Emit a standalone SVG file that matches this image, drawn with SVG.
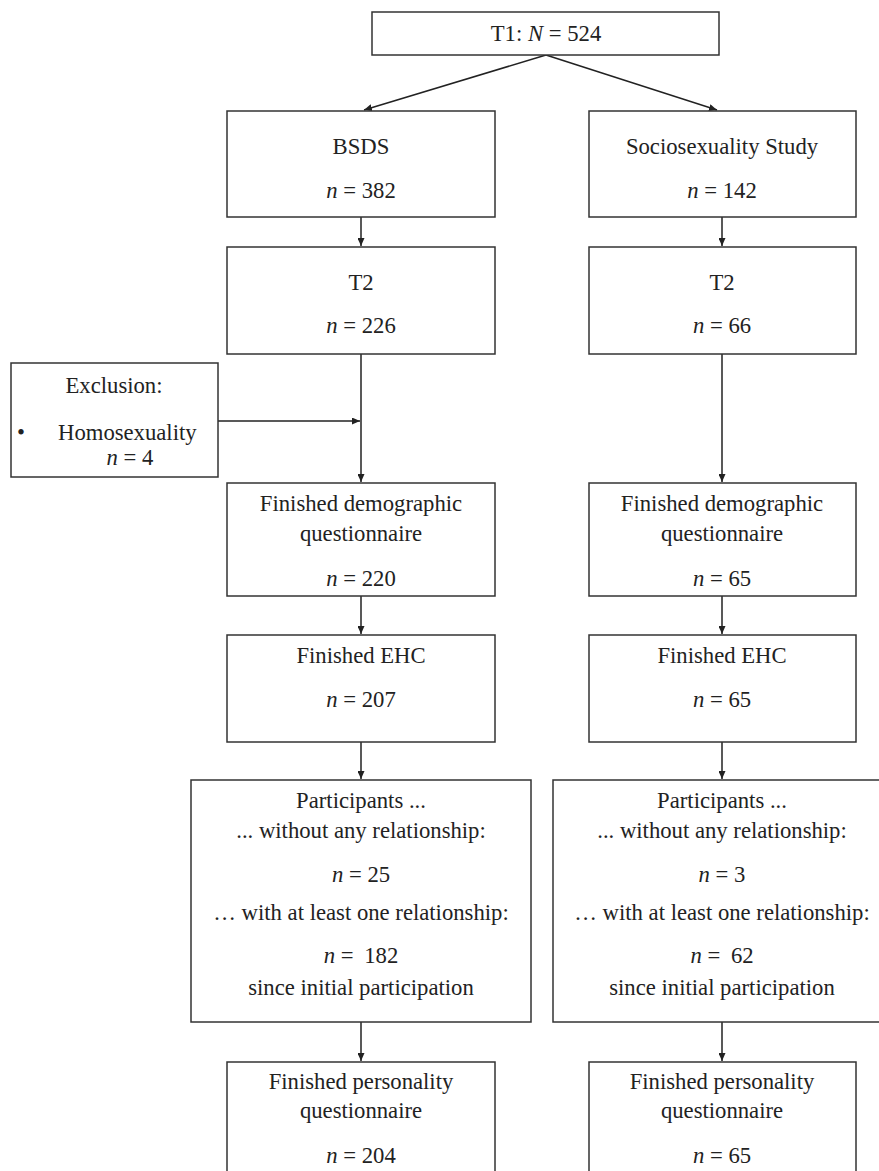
<svg xmlns="http://www.w3.org/2000/svg" width="879" height="1171" viewBox="0 0 879 1171">
<style>
rect.box{fill:#fff;stroke:#333;stroke-width:1.5}
text{font-family:"Liberation Serif","Times New Roman",serif;font-size:22.7px;fill:#222;text-anchor:middle}
text.l{text-anchor:start}
.it{font-style:italic}
.con line{stroke:#222;stroke-width:1.5;fill:none}
</style>
<defs>
<marker id="ah" markerWidth="8" markerHeight="7" refX="8" refY="3.5" orient="auto" markerUnits="userSpaceOnUse">
<path d="M0,0 L8,3.5 L0,7 z" fill="#222"/>
</marker>
</defs>
<rect width="879" height="1171" fill="#fff"/>
<g class="con">
<line x1="546" y1="55" x2="364" y2="110" marker-end="url(#ah)"/>
<line x1="546" y1="55" x2="717" y2="110" marker-end="url(#ah)"/>
<line x1="361" y1="217" x2="361" y2="246" marker-end="url(#ah)"/>
<line x1="722" y1="217" x2="722" y2="246" marker-end="url(#ah)"/>
<line x1="361" y1="354" x2="361" y2="482" marker-end="url(#ah)"/>
<line x1="218" y1="421" x2="360" y2="421" marker-end="url(#ah)"/>
<line x1="722" y1="354" x2="722" y2="482" marker-end="url(#ah)"/>
<line x1="361" y1="596" x2="361" y2="634" marker-end="url(#ah)"/>
<line x1="722" y1="596" x2="722" y2="634" marker-end="url(#ah)"/>
<line x1="361" y1="742" x2="361" y2="779" marker-end="url(#ah)"/>
<line x1="722" y1="742" x2="722" y2="779" marker-end="url(#ah)"/>
<line x1="361" y1="1022" x2="361" y2="1061" marker-end="url(#ah)"/>
<line x1="722" y1="1022" x2="722" y2="1061" marker-end="url(#ah)"/>
</g>
<g id="t1">
<rect class="box" x="372" y="12" width="347" height="43"/>
<text x="546" y="41">T1: <tspan class="it">N</tspan> = 524</text>
</g>
<g id="bsds">
<rect class="box" x="227" y="111" width="268" height="106"/>
<text x="361" y="154">BSDS</text>
<text x="361" y="198"><tspan class="it">n</tspan> = 382</text>
</g>
<g id="socio">
<rect class="box" x="589" y="111" width="267" height="106"/>
<text x="722" y="154">Sociosexuality Study</text>
<text x="722" y="198"><tspan class="it">n</tspan> = 142</text>
</g>
<g id="t2-left">
<rect class="box" x="227" y="247" width="268" height="107"/>
<text x="361" y="290">T2</text>
<text x="361" y="333"><tspan class="it">n</tspan> = 226</text>
</g>
<g id="t2-right">
<rect class="box" x="589" y="247" width="267" height="107"/>
<text x="722" y="290">T2</text>
<text x="722" y="333"><tspan class="it">n</tspan> = 66</text>
</g>
<g id="exclusion">
<rect class="box" x="11" y="363" width="207" height="114"/>
<text x="114" y="393">Exclusion:</text>
<text class="l" x="17" y="440">•</text>
<text class="l" x="58" y="440">Homosexuality</text>
<text x="130" y="465"><tspan class="it">n</tspan> = 4</text>
</g>
<g id="demo-left">
<rect class="box" x="227" y="483" width="268" height="113"/>
<text x="361" y="511">Finished demographic</text>
<text x="361" y="541">questionnaire</text>
<text x="361" y="586"><tspan class="it">n</tspan> = 220</text>
</g>
<g id="demo-right">
<rect class="box" x="589" y="483" width="267" height="113"/>
<text x="722" y="511">Finished demographic</text>
<text x="722" y="541">questionnaire</text>
<text x="722" y="586"><tspan class="it">n</tspan> = 65</text>
</g>
<g id="ehc-left">
<rect class="box" x="227" y="635" width="268" height="107"/>
<text x="361" y="663">Finished EHC</text>
<text x="361" y="707"><tspan class="it">n</tspan> = 207</text>
</g>
<g id="ehc-right">
<rect class="box" x="589" y="635" width="267" height="107"/>
<text x="722" y="663">Finished EHC</text>
<text x="722" y="707"><tspan class="it">n</tspan> = 65</text>
</g>
<g id="part-left">
<rect class="box" x="191" y="780" width="340" height="242"/>
<text x="361" y="808">Participants ...</text>
<text x="361" y="838">... without any relationship:</text>
<text x="361" y="882"><tspan class="it">n</tspan> = 25</text>
<text x="361" y="920">… with at least one relationship:</text>
<text x="361" y="963"><tspan class="it">n</tspan> = <tspan dx="5">182</tspan></text>
<text x="361" y="995">since initial participation</text>
</g>
<g id="part-right">
<rect class="box" x="553" y="780" width="338" height="242"/>
<text x="722" y="808">Participants ...</text>
<text x="722" y="838">... without any relationship:</text>
<text x="722" y="882"><tspan class="it">n</tspan> = 3</text>
<text x="722" y="920">… with at least one relationship:</text>
<text x="722" y="963"><tspan class="it">n</tspan> = <tspan dx="5">62</tspan></text>
<text x="722" y="995">since initial participation</text>
</g>
<g id="pers-left">
<rect class="box" x="227" y="1062" width="268" height="130"/>
<text x="361" y="1089">Finished personality</text>
<text x="361" y="1118">questionnaire</text>
<text x="361" y="1163"><tspan class="it">n</tspan> = 204</text>
</g>
<g id="pers-right">
<rect class="box" x="589" y="1062" width="267" height="130"/>
<text x="722" y="1089">Finished personality</text>
<text x="722" y="1118">questionnaire</text>
<text x="722" y="1163"><tspan class="it">n</tspan> = 65</text>
</g>
</svg>
